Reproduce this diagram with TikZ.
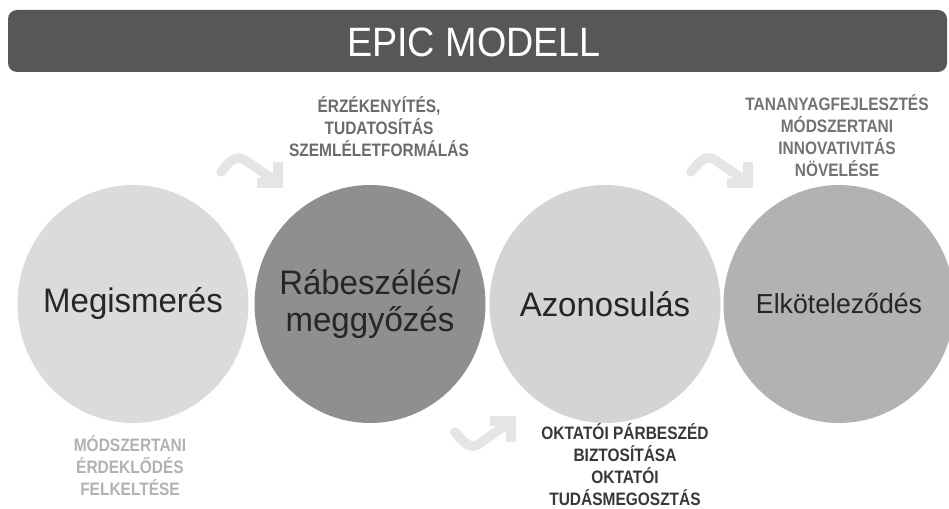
\documentclass[tikz,border=0pt]{standalone}
\usepackage{fontspec}
\setmainfont{Liberation Sans}
\newfontfamily\condA[FakeStretch=0.92]{Liberation Sans}
\newfontfamily\condC[FakeStretch=0.97]{Liberation Sans}
\newfontfamily\condB[FakeStretch=0.86]{Liberation Sans}
\usetikzlibrary{shapes.geometric}
\begin{document}
\begin{tikzpicture}[x=1pt,y=-1pt,
  circ/.style={ellipse,minimum width=231pt,minimum height=238pt,inner sep=0pt},
  ctext/.style={align=center,text=black!85,font=\condC\fontsize{34}{37}\selectfont},
  lbl/.style={align=center,font=\condB\fontsize{18}{22}\selectfont\bfseries},
  deco/.style={draw=black!10,line width=9.5pt,line cap=round,line join=round}]
\useasboundingbox[fill=white] (0,0) rectangle (949,508);
% banner
\fill[fill=black!66,rounded corners=9pt] (8,10) rectangle (947,72);
\node[text=white,font=\condA\fontsize{41}{44}\selectfont] (title) at (474,42) {EPIC MODELL};
% circles
\begin{scope}
\clip (0,0) rectangle (949,508);
\node[circ,fill=black!14] (c1) at (133,304) {};
\node[circ,fill=black!44] (c2) at (370,304) {};
\node[circ,fill=black!17] (c3) at (605,304) {};
\node[circ,fill=black!30] (c4) at (839,304) {};
\end{scope}
\node[ctext] (c1t) at (c1.center) {Megismerés};
\node[ctext] (c2t) at (c2.center) {Rábeszélés/\\meggyőzés};
\node[ctext] (c3t) at (c3.center) {Azonosulás};
\node[ctext,font=\condC\fontsize{27.5}{31}\selectfont] (c4t) at (c4.center) {Elköteleződés};
% labels
\node[lbl,text=black!58] (t1) at (379,127) {ÉRZÉKENYÍTÉS,\\TUDATOSÍTÁS\\SZEMLÉLETFORMÁLÁS};
\node[lbl,text=black!55] (t4) at (837,136) {TANANYAGFEJLESZTÉS\\MÓDSZERTANI\\INNOVATIVITÁS\\NÖVELÉSE};
\node[lbl,text=black!78] (t3) at (625,465) {OKTATÓI PÁRBESZÉD\\BIZTOSÍTÁSA\\OKTATÓI\\TUDÁSMEGOSZTÁS};
\node[lbl,text=black!30] (t2) at (130,466) {MÓDSZERTANI\\ÉRDEKLŐDÉS\\FELKELTÉSE};
% decorative arrows
\draw[deco] (221,172) .. controls (229,162) and (236,154) .. (245,160) -- (274,180);
\draw[deco,line cap=butt,line join=miter] (278,162) -- (278,183) -- (257,183);
\draw[deco] (691,172) .. controls (699,162) and (706,154) .. (715,160) -- (744,180);
\draw[deco,line cap=butt,line join=miter] (748,162) -- (748,183) -- (727,183);
\draw[deco] (455,432) .. controls (463,442) and (470,450) .. (479,444) -- (507,424);
\draw[deco,line cap=butt,line join=miter] (511,442) -- (511,421) -- (490,421);
\end{tikzpicture}
\end{document}
